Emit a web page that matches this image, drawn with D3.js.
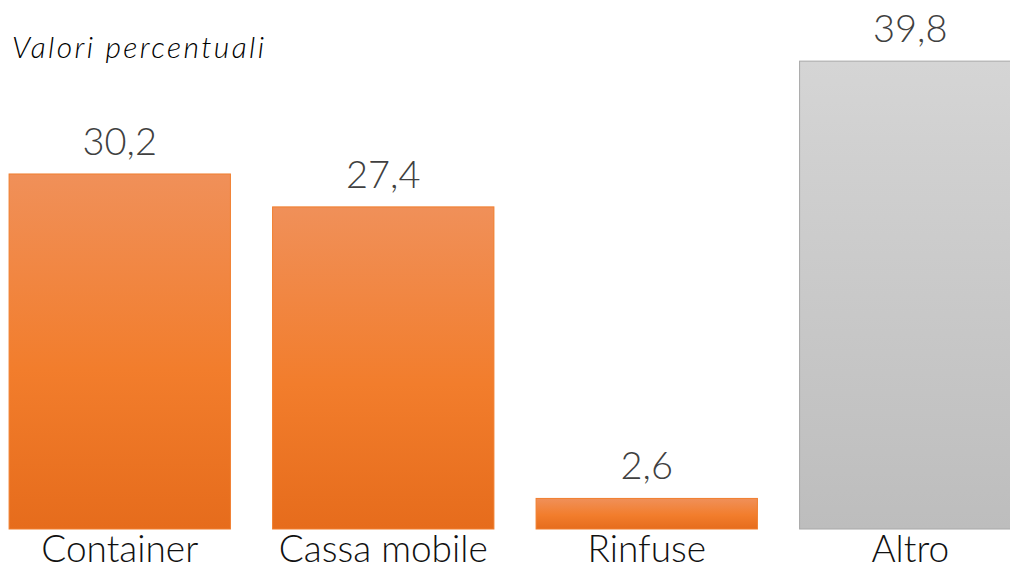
<!DOCTYPE html>
<html>
<head>
<meta charset="utf-8">
<script src="https://cdn.jsdelivr.net/npm/d3@7"></script>
<style>
  html, body { margin: 0; padding: 0; background: #fff; }
  svg { display: block; }
</style>
</head>
<body>
<svg id="chart" width="1010" height="570"></svg>
<script>
const categories = ["Container", "Cassa mobile", "Rinfuse", "Altro"];
const values = [30.2, 27.4, 2.6, 39.8];
const valueLabels = ["30,2", "27,4", "2,6", "39,8"];
const kinds = ["orange", "orange", "orange", "gray"];
const title = "Valori percentuali";

const svg = d3.select("#chart");
const font = "Lato, 'Noto Sans', sans-serif";

const defs = svg.append("defs");
const gO = defs.append("linearGradient").attr("id", "g-orange")
  .attr("x1", 0).attr("y1", 0).attr("x2", 0).attr("y2", 1);
gO.append("stop").attr("offset", "0%").attr("stop-color", "#F09059");
gO.append("stop").attr("offset", "55%").attr("stop-color", "#F27D2C");
gO.append("stop").attr("offset", "100%").attr("stop-color", "#E66C1C");
const gG = defs.append("linearGradient").attr("id", "g-gray")
  .attr("x1", 0).attr("y1", 0).attr("x2", 0).attr("y2", 1);
gG.append("stop").attr("offset", "0%").attr("stop-color", "#D5D5D5");
gG.append("stop").attr("offset", "100%").attr("stop-color", "#BDBDBD");

const x = d3.scaleBand().domain(categories).range([-12, 1042])
  .paddingInner(0.16).paddingOuter(0.08);
const y = d3.scaleLinear().domain([0, 45]).range([529, 0]);

const data = categories.map((c, i) => ({ c, v: values[i], l: valueLabels[i], k: kinds[i] }));

svg.selectAll("rect.bar").data(data).join("rect")
  .attr("class", "bar")
  .attr("x", d => x(d.c))
  .attr("y", d => y(d.v))
  .attr("width", x.bandwidth())
  .attr("height", d => y(0) - y(d.v))
  .attr("fill", d => d.k === "orange" ? "url(#g-orange)" : "url(#g-gray)")
  .attr("stroke", d => d.k === "orange" ? "#F07E2E" : "#A8A8A8")
  .attr("stroke-width", 1);

svg.selectAll("text.val").data(data).join("text")
  .attr("class", "val")
  .attr("x", d => x(d.c) + x.bandwidth() / 2)
  .attr("y", d => y(d.v) - 19)
  .attr("text-anchor", "middle")
  .attr("font-family", font)
  .attr("font-weight", 300)
  .attr("font-size", 38)
  .attr("fill", "#404040")
  .text(d => d.l);

const xAxis = svg.append("g").attr("transform", `translate(0,${y(0)})`)
  .call(d3.axisBottom(x).tickSize(0).tickPadding(0));
xAxis.select(".domain").remove();
xAxis.selectAll("text")
  .attr("dy", null)
  .attr("y", 33)
  .attr("font-family", font)
  .attr("font-weight", 300)
  .attr("font-size", 37)
  .attr("fill", "#111");

svg.append("text")
  .attr("x", 12).attr("y", 58)
  .attr("font-family", font)
  .attr("font-style", "italic")
  .attr("font-weight", 300)
  .attr("font-size", 30)
  .attr("letter-spacing", 2.4)
  .attr("fill", "#000")
  .text(title);
</script>
</body>
</html>
